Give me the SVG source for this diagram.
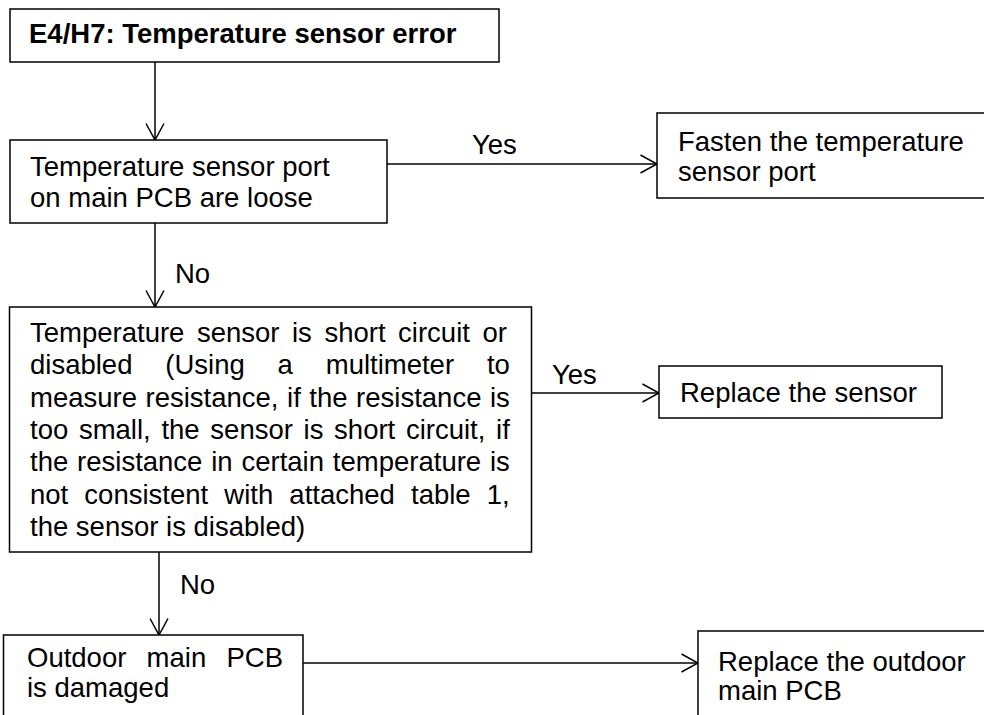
<svg xmlns="http://www.w3.org/2000/svg" width="984" height="715" viewBox="0 0 984 715">
<style>
.box{fill:#fff;stroke:#000;stroke-width:1.5}
.t{font-family:"Liberation Sans",Arial,sans-serif;font-size:27.5px;fill:#000}
.b{font-weight:bold}
.c{fill:none;stroke:#000;stroke-width:1.5}
</style>
<defs>
<marker id="ah" viewBox="0 0 18 20" refX="17" refY="10" markerWidth="18" markerHeight="20" markerUnits="userSpaceOnUse" orient="auto">
<path d="M0.5,1 L17,10 L0.5,19" fill="none" stroke="#000" stroke-width="1.5"/>
</marker>
</defs>
<rect width="984" height="715" fill="#fff"/>
<g id="connectors">
<line class="c" x1="155" y1="62" x2="155" y2="140" marker-end="url(#ah)"/>
<line class="c" x1="387" y1="164" x2="657" y2="164" marker-end="url(#ah)"/>
<line class="c" x1="155" y1="223" x2="155" y2="307" marker-end="url(#ah)"/>
<line class="c" x1="531.5" y1="393" x2="659" y2="393" marker-end="url(#ah)"/>
<line class="c" x1="159" y1="552" x2="159" y2="635" marker-end="url(#ah)"/>
<line class="c" x1="303" y1="663" x2="698" y2="663" marker-end="url(#ah)"/>
<text class="t" x="472" y="154">Yes</text>
<text class="t" x="175" y="283">No</text>
<text class="t" x="552" y="384">Yes</text>
<text class="t" x="180" y="594">No</text>
</g>
<g id="n1">
<rect class="box" x="10" y="9" width="489" height="53"/>
<text class="t b" x="29" y="43">E4/H7: Temperature sensor error</text>
</g>
<g id="n2">
<rect class="box" x="10" y="140" width="377" height="83"/>
<text class="t" x="30" y="176">Temperature sensor port</text>
<text class="t" x="30" y="207">on main PCB are loose</text>
</g>
<g id="n3">
<rect class="box" x="657" y="113" width="340" height="85"/>
<text class="t" x="678" y="151">Fasten the temperature</text>
<text class="t" x="678" y="181">sensor port</text>
</g>
<g id="n4">
<rect class="box" x="9.5" y="307" width="522" height="245"/>
<text class="t" x="30" y="342" word-spacing="4.9">Temperature sensor is short circuit or</text>
<text class="t" x="30" y="374.3" word-spacing="25.2">disabled (Using a multimeter to</text>
<text class="t" x="30" y="406.6" word-spacing="0.9">measure resistance, if the resistance is</text>
<text class="t" x="30" y="438.9" word-spacing="3.05">too small, the sensor is short circuit, if</text>
<text class="t" x="30" y="471.2" word-spacing="1.2">the resistance in certain temperature is</text>
<text class="t" x="30" y="503.5" word-spacing="8.5">not consistent with attached table 1,</text>
<text class="t" x="30" y="535.8">the sensor is disabled)</text>
</g>
<g id="n5">
<rect class="box" x="659" y="366" width="283" height="52"/>
<text class="t" x="680" y="402">Replace the sensor</text>
</g>
<g id="n6">
<rect class="box" x="3.5" y="635" width="299.5" height="100"/>
<text class="t" x="27" y="667" word-spacing="12.6">Outdoor main PCB</text>
<text class="t" x="27" y="697">is damaged</text>
</g>
<g id="n7">
<rect class="box" x="698" y="631" width="300" height="100"/>
<text class="t" x="718" y="671">Replace the outdoor</text>
<text class="t" x="718" y="700">main PCB</text>
</g>
</svg>
